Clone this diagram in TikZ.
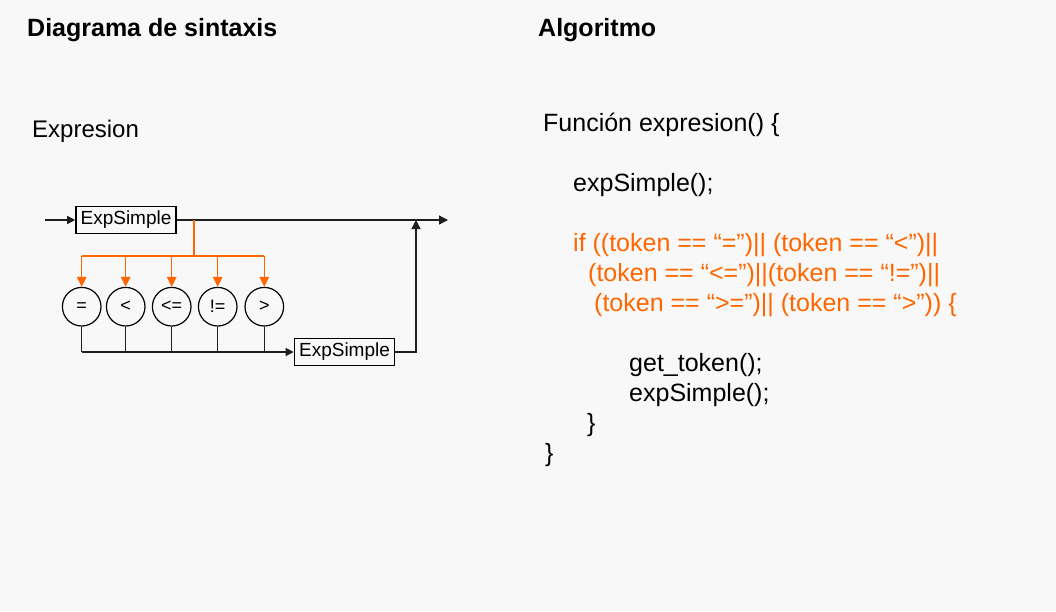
\documentclass[tikz,border=0pt]{standalone}
\usepackage{fontspec}
\setmainfont{Liberation Sans}
\usetikzlibrary{arrows.meta}
\definecolor{bg}{RGB}{248,248,248}
\definecolor{org}{RGB}{255,102,0}
\definecolor{ln}{RGB}{30,30,30}
\begin{document}
\begin{tikzpicture}[x=1pt,y=-1pt,
  title/.style={anchor=base west, inner sep=0, font=\fontsize{25}{29}\selectfont\bfseries},
  code/.style={anchor=base west, inner sep=0, font=\fontsize{25}{29}\selectfont},
  codeo/.style={code, text=org},
  box/.style={draw=black, line width=1.6pt, minimum width=100pt, minimum height=27pt, inner sep=0, font=\fontsize{19}{21}\selectfont},
  op/.style={circle, draw=black, line width=1.2pt, minimum size=38.6pt, inner sep=0, font=\fontsize{18}{20}\selectfont},
  wire/.style={draw=ln, line width=1.3pt},
  arr/.style={-{Triangle[length=9pt,width=9pt]}},
  owire/.style={draw=org, line width=1.4pt},
]
\fill[bg] (0,0) rectangle (1056,611);
\useasboundingbox (0,0) rectangle (1056,611);

% titles
\node[title] (t1) at (27,36) {Diagrama de sintaxis};
\node[title] (t2) at (538,36) {Algoritmo};
\node[code, font=\fontsize{24}{29}\selectfont]  (expr) at (32,137) {Expresion};

% syntax diagram
\node[box] (b1) at (126,220) {ExpSimple};
\node[box] (b2) at (344.5,352) {ExpSimple};
\node[op] (c1) at (81.7,306.7) {=};
\node[op] (c2) at (125.7,306.7) {<};
\node[op] (c3) at (171.7,306.7) {<=};
\node[op] (c4) at (217.7,306.7) {!=};
\node[op] (c5) at (264.3,306.7) {>};

\coordinate (in) at (45,220);
\coordinate (out) at (448,220);
\coordinate (split) at (194,220);
\coordinate (obar) at (194,256);
\coordinate (rj) at (416,352);
\coordinate (ret) at (416,220);

\draw[wire,-{Triangle[length=8pt,width=8pt]}] (in) -- (b1.west);
\draw[wire,arr] (b1.east) -- (out);
\draw[owire] (split) -- (obar);
\draw[owire] (c1.north |- obar) -- (c5.north |- obar);
\foreach \c in {c1,c2,c3,c4,c5}{
  \draw[owire,-{Triangle[length=10pt,width=9.5pt]}] (\c.north |- obar) -- (\c.north);
}
\coordinate (bl) at (c1.south |- b2.west);
\draw[wire] (c1.south) -- (bl);
\draw[wire,-{Triangle[length=8pt,width=8pt]}] (bl) -- (b2.west);
\foreach \c in {c2,c3,c4,c5}{
  \draw[wire] (\c.south) -- (\c.south |- b2.west);
}
\draw[wire,arr] (b2.east) -- (rj) -- (ret);

% algorithm
\node[code]  (l1) at (543,131) {Función expresion() \{};
\node[code]  (l2) at (573,191) {expSimple();};
\node[codeo] (l3) at (573,251) {if ((token == “=”)|| (token == “<”)||};
\node[codeo] (l4) at (588,281) {(token == “<=”)||(token == “!=”)||};
\node[codeo] (l5) at (594,311) {(token == “>=”)|| (token == “>”)) \{};
\node[code]  (l6) at (629,371) {get\_token();};
\node[code]  (l7) at (629,401) {expSimple();};
\node[code]  (l8) at (587,431) {\}};
\node[code]  (l9) at (545,461) {\}};
\end{tikzpicture}
\end{document}
